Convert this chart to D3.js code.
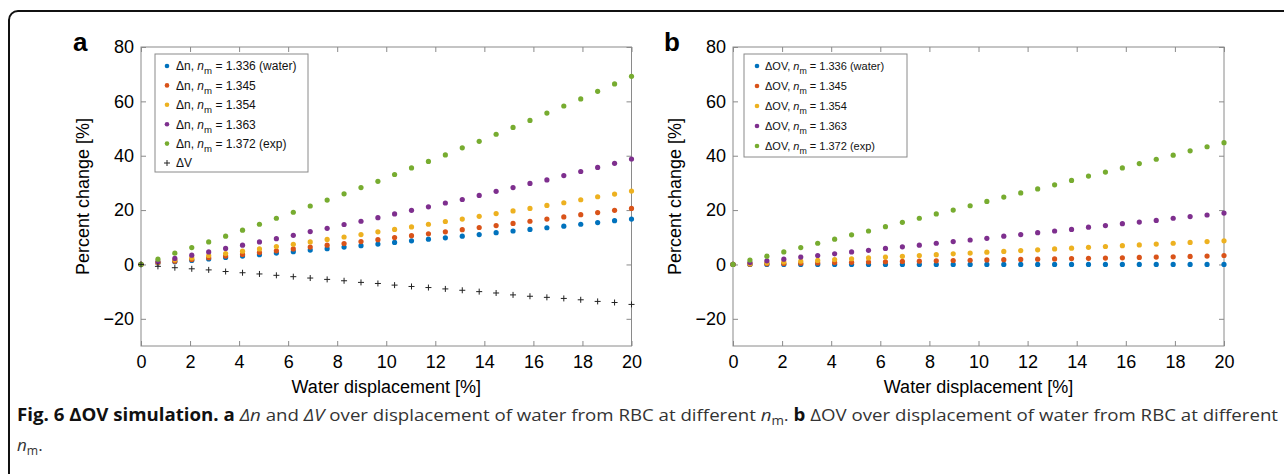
<!DOCTYPE html>
<html><head><meta charset="utf-8">
<script src="https://cdn.jsdelivr.net/npm/d3@7"></script>
<style>
html,body{margin:0;padding:0;background:#fff;}
svg{display:block;}
</style></head>
<body>
<svg id="chart" width="1284" height="474"></svg>
<script>
// ---------- data ----------
const waterDisplacement = [0, 0.69, 1.38, 2.07, 2.76, 3.45, 4.14, 4.83, 5.52, 6.21, 6.90, 7.59, 8.28, 8.97, 9.66, 10.34, 11.03, 11.72, 12.41, 13.10, 13.79, 14.48, 15.17, 15.86, 16.55, 17.24, 17.93, 18.62, 19.31, 20];

const dn_1336 = [0, 0.5, 1.0, 1.5, 2.0, 2.6, 3.1, 3.6, 4.2, 4.7, 5.3, 5.8, 6.4, 6.9, 7.5, 8.1, 8.7, 9.3, 9.8, 10.4, 11.0, 11.7, 12.3, 12.9, 13.5, 14.1, 14.8, 15.4, 16.1, 16.7];
const dn_1345 = [0, 0.6, 1.2, 1.8, 2.5, 3.1, 3.7, 4.4, 5.0, 5.7, 6.4, 7.1, 7.7, 8.4, 9.1, 9.9, 10.6, 11.3, 12.0, 12.8, 13.6, 14.3, 15.1, 15.9, 16.7, 17.5, 18.3, 19.1, 19.9, 20.6];
const dn_1354 = [0, 0.85, 1.7, 2.4, 3.3, 4.0, 4.9, 5.7, 6.6, 7.4, 8.3, 9.2, 10.1, 11.0, 12.0, 12.9, 13.8, 14.8, 15.8, 16.7, 17.7, 18.7, 19.7, 20.6, 21.7, 22.7, 23.8, 24.9, 25.9, 27.0];
const dn_1363 = [0, 0.98, 2.2, 3.4, 4.6, 5.9, 7.1, 8.3, 9.5, 10.7, 12.1, 13.3, 14.7, 15.9, 17.2, 18.6, 19.9, 21.2, 22.6, 23.9, 25.4, 26.9, 28.3, 29.8, 31.1, 32.7, 34.2, 35.7, 37.2, 38.8];
const dn_1372 = [0, 1.95, 4.15, 6.2, 8.3, 10.4, 12.6, 14.8, 17.0, 19.2, 21.5, 23.7, 26.0, 28.3, 30.6, 33.1, 35.5, 37.9, 40.3, 42.9, 45.3, 47.9, 50.4, 53.0, 55.7, 58.3, 60.9, 63.7, 66.4, 69.2];
const dV = [0, -0.7, -1.2, -1.6, -2.0, -2.6, -3.05, -3.5, -4.0, -4.5, -5.0, -5.5, -6.0, -6.6, -7.0, -7.6, -8.1, -8.5, -9.0, -9.5, -10.0, -10.5, -11.2, -11.7, -12.1, -12.5, -13.0, -13.6, -14.0, -14.7];

const dOV_1336 = [0, 0, 0, 0, 0, 0, 0, 0, 0, 0, 0, 0, 0, 0, 0, 0, 0, 0, 0, 0, 0, 0, 0, 0, 0, 0, 0, 0, 0, 0];
const dOV_1345 = [0, 0.11, 0.23, 0.34, 0.45, 0.56, 0.68, 0.79, 0.9, 1.0, 1.1, 1.2, 1.35, 1.45, 1.55, 1.65, 1.75, 1.85, 1.95, 2.05, 2.15, 2.25, 2.35, 2.45, 2.6, 2.7, 2.8, 2.95, 3.1, 3.3];
const dOV_1354 = [0, 0.3, 0.6, 0.9, 1.2, 1.5, 1.8, 2.1, 2.4, 2.7, 3.0, 3.3, 3.6, 3.9, 4.2, 4.5, 4.8, 5.1, 5.4, 5.7, 6.0, 6.3, 6.6, 6.9, 7.2, 7.5, 7.8, 8.1, 8.4, 8.7];
const dOV_1363 = [0, 0.7, 1.35, 1.95, 2.7, 3.3, 3.9, 4.6, 5.2, 5.9, 6.5, 7.1, 7.8, 8.4, 9.0, 9.6, 10.4, 11.0, 11.7, 12.3, 12.9, 13.7, 14.3, 15.0, 15.6, 16.2, 17.0, 17.6, 18.2, 18.9];
const dOV_1372 = [0, 1.6, 3.05, 4.6, 6.2, 7.8, 9.3, 10.9, 12.3, 13.9, 15.5, 17.0, 18.6, 20.0, 21.6, 23.2, 24.8, 26.3, 27.8, 29.3, 30.9, 32.5, 34.0, 35.5, 37.1, 38.7, 40.2, 41.8, 43.3, 44.8];

const nmLabels = ["1.336 (water)", "1.345", "1.354", "1.363", "1.372 (exp)"];
const xTicks = [0, 2, 4, 6, 8, 10, 12, 14, 16, 18, 20];
const yTicks = [-20, 0, 20, 40, 60, 80];
const xDomain = [0, 20];
const yDomain = [-30, 80];
const xTitle = "Water displacement [%]";
const yTitle = "Percent change [%]";

// ---------- style ----------
const colors = ["#0072BD", "#D95319", "#EDB120", "#7E2F8E", "#77AC30"];
const FONT = "'Liberation Sans', Arial, Helvetica, sans-serif";
const svg = d3.select("#chart");

// outer rounded frame
svg.append("rect").attr("x", 9).attr("y", 11).attr("width", 1300).attr("height", 500)
  .attr("rx", 9).attr("fill", "none").attr("stroke", "#111").attr("stroke-width", 2);

function panel(opts) {
  const {left, right, top, bottom, series, markerSeries, legend, letter, letterX} = opts;
  const x = d3.scaleLinear().domain(xDomain).range([left, right]);
  const y = d3.scaleLinear().domain(yDomain).range([bottom, top]);
  const g = svg.append("g");

  // box
  g.append("rect").attr("x", left).attr("y", top).attr("width", right - left).attr("height", bottom - top)
    .attr("fill", "none").attr("stroke", "#8a8a8a").attr("stroke-width", 1);

  const styleAxis = sel => {
    sel.select(".domain").remove();
    sel.selectAll(".tick line").attr("stroke", "#8a8a8a");
    sel.selectAll(".tick text").attr("fill", "#000").style("font-family", FONT).style("font-size", "18px");
  };
  g.append("g").attr("transform", `translate(0,${bottom})`)
    .call(d3.axisBottom(x).tickValues(xTicks).tickFormat(d3.format("d")).tickSizeInner(-5).tickSizeOuter(0).tickPadding(9))
    .call(styleAxis);
  g.append("g").attr("transform", `translate(0,${top})`)
    .call(d3.axisTop(x).tickValues(xTicks).tickFormat("").tickSizeInner(-5).tickSizeOuter(0))
    .call(styleAxis);
  g.append("g").attr("transform", `translate(${left},0)`)
    .call(d3.axisLeft(y).tickValues(yTicks).tickFormat(d => d < 0 ? "\u2212" + Math.abs(d) : d).tickSizeInner(-5).tickSizeOuter(0).tickPadding(7))
    .call(styleAxis);
  g.append("g").attr("transform", `translate(${right},0)`)
    .call(d3.axisRight(y).tickValues(yTicks).tickFormat("").tickSizeInner(-5).tickSizeOuter(0))
    .call(styleAxis);

  // titles
  g.append("text").attr("x", (left + right) / 2).attr("y", 393).attr("text-anchor", "middle")
    .style("font-family", FONT).style("font-size", "18px").text(xTitle);
  g.append("text").attr("transform", `translate(${left - 52},${(top + bottom) / 2}) rotate(-90)`)
    .attr("text-anchor", "middle").style("font-family", FONT).style("font-size", "18px").text(yTitle);

  // panel letter
  g.append("text").attr("x", letterX).attr("y", 51).style("font-family", FONT)
    .style("font-size", "26px").style("font-weight", "bold").text(letter);

  // series
  series.forEach((vals, i) => {
    g.append("g").selectAll("circle").data(vals).join("circle")
      .attr("cx", (d, j) => x(waterDisplacement[j])).attr("cy", d => y(d))
      .attr("r", 2.6).attr("fill", colors[i]);
  });
  if (markerSeries) {
    g.append("g").selectAll("path").data(markerSeries).join("path")
      .attr("d", (d, j) => {
        const cx = x(waterDisplacement[j]), cy = y(d), h = 3;
        return `M${cx - h},${cy}H${cx + h}M${cx},${cy - h}V${cy + h}`;
      })
      .attr("stroke", "#222").attr("stroke-width", 1).attr("fill", "none");
  }

  // legend
  const L = legend;
  const lg = g.append("g");
  lg.append("rect").attr("x", L.x).attr("y", L.y).attr("width", L.w).attr("height", L.h)
    .attr("fill", "#fff").attr("stroke", "#8a8a8a").attr("stroke-width", 1);
  L.items.forEach((it, i) => {
    const cy = L.y + 12 + i * L.step;
    if (it.type === "dot") {
      lg.append("circle").attr("cx", L.mx).attr("cy", cy).attr("r", 2.3).attr("fill", it.color);
    } else {
      lg.append("path").attr("d", `M${L.mx - 3},${cy}H${L.mx + 3}M${L.mx},${cy - 3}V${cy + 3}`)
        .attr("stroke", "#222").attr("stroke-width", 1);
    }
    const t = lg.append("text").attr("x", L.tx).attr("y", cy + L.fs * 0.36)
      .style("font-family", FONT).style("font-size", L.fs + "px").attr("fill", "#111");
    if (it.nm) {
      t.append("tspan").text(it.prefix + ", ");
      t.append("tspan").style("font-style", "italic").text("n");
      t.append("tspan").attr("dy", 4).style("font-size", (L.fs * 0.8) + "px").text("m");
      t.append("tspan").attr("dy", -4).text(" = " + it.nm);
    } else {
      t.text(it.prefix);
    }
  });
}

const aItems = nmLabels.map((nm, i) => ({type: "dot", color: colors[i], prefix: "\u0394n", nm}));
aItems.push({type: "plus", prefix: "\u0394V"});
panel({
  left: 141, right: 631.5, top: 47, bottom: 346,
  series: [dn_1336, dn_1345, dn_1354, dn_1363, dn_1372],
  markerSeries: dV,
  letter: "a", letterX: 73,
  legend: {x: 155, y: 54, w: 153, h: 118, step: 19.4, mx: 167, tx: 176, fs: 12, items: aItems}
});
const bItems = nmLabels.map((nm, i) => ({type: "dot", color: colors[i], prefix: "\u0394OV", nm}));
panel({
  left: 733, right: 1224, top: 47, bottom: 346,
  series: [dOV_1336, dOV_1345, dOV_1354, dOV_1363, dOV_1372],
  markerSeries: null,
  letter: "b", letterX: 664,
  legend: {x: 744, y: 54, w: 163, h: 103, step: 20, mx: 757, tx: 765, fs: 11, items: bItems}
});

// ---------- caption ----------
const CF = "'Open Sans', 'Noto Sans', sans-serif";
const CFS = 17;
function captionLine(x0, x1, y, parts) {
  const t = svg.append("text").attr("x", x0).attr("y", y).style("font-family", CF)
    .style("font-size", CFS + "px").attr("fill", "#333");
  parts.forEach(([s, k]) => {
    const sp = t.append("tspan").text(s);
    if (k === "bold") sp.style("font-weight", "700").attr("fill", "#111");
    if (k === "italic") sp.style("font-style", "italic");
    if (k === "sub") sp.attr("dy", 4).style("font-size", "0.72em");
    if (k === "after") sp.attr("dy", -4);
  });
  if (x1) t.attr("textLength", x1 - x0).attr("lengthAdjust", "spacingAndGlyphs");
  return t;
}
captionLine(17, 1278, 421, [
  ["Fig. 6 \u0394OV simulation. a", "bold"], [" ", ""], ["\u0394n", "italic"], [" and ", ""], ["\u0394V", "italic"],
  [" over displacement of water from RBC at different ", ""], ["n", "italic"], ["m", "sub"], [". ", "after"],
  ["b", "bold"], [" \u0394OV over displacement of water from RBC at different", ""]
]);
captionLine(17, null, 451, [["n", "italic"], ["m", "sub"], [".", "after"]]);
</script>
</body></html>
